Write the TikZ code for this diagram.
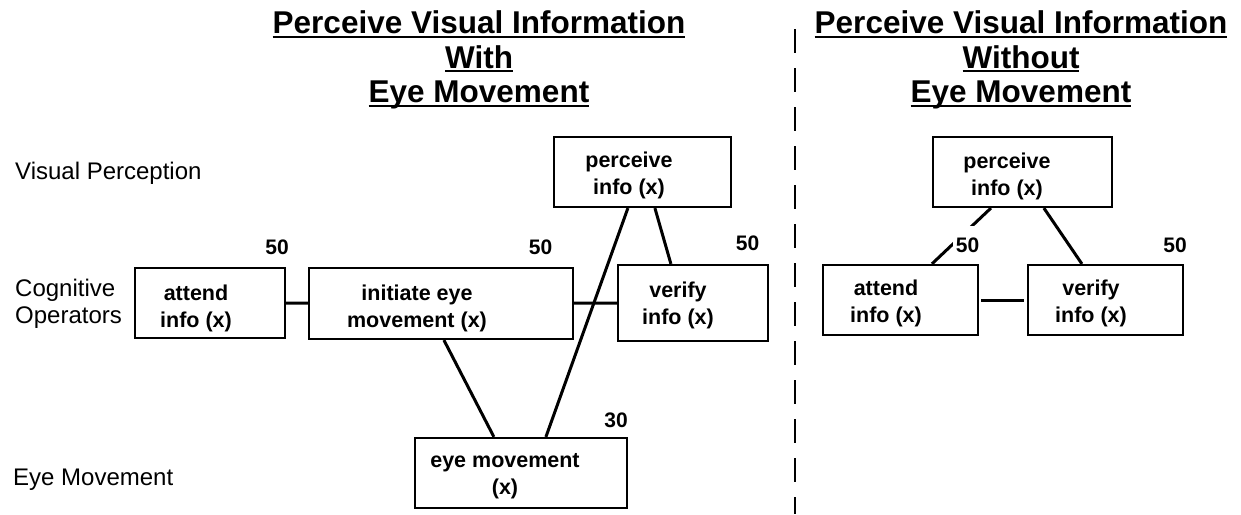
\documentclass[tikz,border=0pt]{standalone}
\usepackage{fontspec}
\setmainfont{Liberation Sans}
\newcommand{\ulin}[1]{\setbox0=\hbox{#1}\leavevmode\rlap{\rule[-4pt]{\wd0}{2pt}}\box0}
\tikzset{
	box/.style={draw, line width=2.2pt, inner sep=0pt},
	boxtext/.style={font=\fontsize{21.5}{27}\selectfont\bfseries, align=center, inner sep=0pt},
	cost/.style={font=\fontsize{21}{25}\selectfont\bfseries, anchor=base, inner sep=0pt},
	level/.style={font=\fontsize{24}{27}\selectfont, align=left, anchor=base west, inner sep=0pt},
	heading/.style={font=\fontsize{31.5}{34.5}\selectfont\bfseries, align=center, inner sep=0pt},
	link/.style={line width=3pt},
}
\begin{document}
\begin{tikzpicture}[x=1pt, y=-1pt]
	\useasboundingbox (0,0) rectangle (1241,514);
	% headings
	\node[heading] (headL) at (479,60)
	{\ulin{Perceive Visual Information}\\\ulin{With}\\\ulin{Eye Movement}};
	\node[heading] (headR) at (1021,60)
	{\ulin{Perceive Visual Information}\\\ulin{Without}\\\ulin{Eye Movement}};
	% separator between the two cases
	\coordinate (sepTop) at (795,29);
	\coordinate (sepBot) at (795,514);
	\draw[line width=2pt, dash pattern=on 24pt off 15pt] (sepTop) -- (sepBot);
	% processing levels
	\node[level] (lvVis) at (15,179) {Visual Perception};
	\node[level] (lvCog) at (15,323) {Cognitive\\Operators};
	\node[level] (lvEye) at (13,485) {Eye Movement};
	% operators: name/centre/width/height/text position/text
	\foreach \n/\c/\w/\h/\p/\t in {%
		attL/{210,303}/150/70/{196,308}/{attend\\info (x)},
		iniL/{441,303.5}/264/71/{417,308}/{initiate eye\\movement (x)},
		perL/{642.5,172}/177/70/{629,175}/{perceive\\info (x)},
		verL/{693,303}/150/76/{678,305}/{verify\\info (x)},
		eyeM/{521,473}/212/70/{505,476}/{eye movement\\(x)},
		perR/{1022.5,172}/179/70/{1007,176}/{perceive\\info (x)},
		attR/{900.5,300}/155/70/{886,303}/{attend\\info (x)},
		verR/{1105.5,300}/155/70/{1091,303}/{verify\\info (x)}} {
		\node[box, minimum width=\w, minimum height=\h] (\n) at (\c) {};
		\node[boxtext] (\n-txt) at (\p) {\t};
	}
	% with eye movement
	\draw[link] (attL) -- (iniL);
	\draw[link] (iniL) -- (verL);
	\draw[link] ([xshift=75]perL.south west) -- ([xshift=132]eyeM.north west);
	\draw[link] ([xshift=102]perL.south west) -- ([xshift=54]verL.north west);
	\draw[link] ([xshift=136]iniL.south west) -- ([xshift=80]eyeM.north west);
	% without eye movement
	\draw[link] ([xshift=59]perR.south west) -- ([xshift=110]attR.north west);
	\draw[link] ([xshift=112]perR.south west) -- ([xshift=55]verR.north west);
	\draw[link, shorten <=2pt, shorten >=3pt] (attR) -- (verR);
	% durations
	\foreach \p/\v [count=\i] in {{277,254}/50, {540.5,254}/50, {747.5,250}/50,
		{616,427}/30, {1175,252}/50}
		\node[cost] (cost\i) at (\p) {\v};
	\node[cost, fill=white, text height=26pt, inner xsep=3pt] (costAttR) at (967.5,252) {50};
\end{tikzpicture}
\end{document}
